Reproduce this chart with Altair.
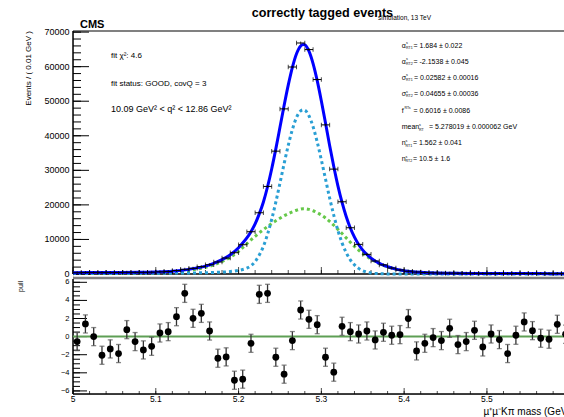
import altair as alt
import pandas as pd

# ---------------- data ----------------
bin_center = [5.005, 5.015, 5.025, 5.035, 5.045, 5.055, 5.065, 5.075, 5.085, 5.095,
              5.105, 5.115, 5.125, 5.135, 5.145, 5.155, 5.165, 5.175, 5.185, 5.195,
              5.205, 5.215, 5.225, 5.235, 5.245, 5.255, 5.265, 5.275, 5.285, 5.295,
              5.305, 5.315, 5.325, 5.335, 5.345, 5.355, 5.365, 5.375, 5.385, 5.395,
              5.405, 5.415, 5.425, 5.435, 5.445, 5.455, 5.465, 5.475, 5.485, 5.495,
              5.505, 5.515, 5.525, 5.535, 5.545, 5.555, 5.565, 5.575, 5.585, 5.595]
events = [370, 420, 415, 405, 420, 430, 480, 470, 480, 520,
          640, 720, 1010, 1350, 1630, 2130, 2690, 3470, 4620, 6160,
          8470, 12230, 17720, 25340, 35550, 47780, 59900, 66850, 64940, 56270,
          43150, 30350, 20900, 13380, 8580, 5690, 3760, 2640, 1720, 1150,
          800, 560, 420, 340, 270, 240, 210, 200, 185, 165,
          160, 150, 130, 135, 140, 125, 115, 112, 120, 105]
pull = [-0.55, 1.4, 0.0, -2.06, -1.36, -1.87, 0.77, -0.55, -1.47, -1.07,
        0.4, 0.55, 2.2, 4.78, 2.02, 2.57, 0.62, -2.39, -2.24, -4.82,
        -4.7, -0.74, 4.67, 4.78, -2.28, -4.15, -0.44, 2.94, 1.91, 1.32,
        -2.28, -3.93, 1.14, 0.55, 0.29, 0.62, -0.37, 0.48, 0.15, 0.22,
        1.99, -1.58, -0.74, -0.11, -0.44, 0.92, -0.88, -0.55, 0.7, -1.14,
        0.29, -0.33, -1.87, 0.15, 1.62, 0.66, -0.18, -0.29, 1.36, 0.26]
pull_err = [1.0] * 60

curve_x = [5.00, 5.02, 5.04, 5.06, 5.08, 5.10, 5.12, 5.14,
           5.15, 5.16, 5.17, 5.18, 5.19, 5.20,
           5.205, 5.21, 5.215, 5.22, 5.225, 5.23, 5.235, 5.24, 5.245, 5.25,
           5.255, 5.26, 5.265, 5.27, 5.275, 5.278,
           5.28, 5.285, 5.29, 5.295, 5.30, 5.305, 5.31, 5.315, 5.32, 5.325,
           5.33, 5.335, 5.34, 5.345, 5.35, 5.355, 5.36,
           5.37, 5.38, 5.39, 5.40, 5.42, 5.44, 5.46, 5.48, 5.50, 5.53, 5.56, 5.60]
curve_total = [380, 410, 435, 470, 520, 600, 810, 1340,
               1770, 2290, 3080, 4140, 5570, 7600,
               8950, 10450, 12250, 14500, 17400, 20850, 25250, 30400, 36200, 42450,
               48750, 54650, 59800, 63750, 66000, 66400,
               66300, 64500, 60900, 55950, 50050, 43700, 37200, 31100, 25500, 20700,
               16650, 13300, 10650, 8530, 6920, 5650, 4600,
               3090, 2120, 1405, 950, 480, 270, 200, 170, 150, 130, 115, 100]
curve_narrow = [150, 160, 170, 185, 200, 220, 250, 290,
                320, 370, 440, 540, 720, 1050,
                1300, 1700, 2400, 3600, 5500, 8000, 11500, 15800, 20800, 26300,
                31900, 37200, 41800, 45300, 47200, 47500,
                47400, 45800, 42600, 38200, 33000, 27500, 22000, 17000, 12600, 9000,
                6200, 4100, 2650, 1630, 970, 550, 300,
                90, 20, 5, 0, 0, 0, 0, 0, 0, 0, 0, 0]
curve_wide = [230, 250, 265, 285, 320, 380, 560, 1050,
              1450, 1920, 2640, 3600, 4850, 6550,
              7650, 8750, 9850, 10900, 11900, 12850, 13750, 14600, 15400, 16150,
              16850, 17450, 18000, 18450, 18800, 18900,
              18900, 18700, 18300, 17750, 17050, 16200, 15200, 14100, 12900, 11700,
              10450, 9200, 8000, 6900, 5950, 5100, 4300,
              3000, 2100, 1400, 950, 480, 270, 200, 170, 150, 130, 115, 100]

y_major = [0, 10000, 20000, 30000, 40000, 50000, 60000, 70000]
y_labels = ["0", "10000", "20000", "30000", "40000", "50000", "60000", "70000"]
y_minor = list(range(0, 70001, 2000))
x_major = [5.0, 5.1, 5.2, 5.3, 5.4, 5.5]
x_labels = ["5", "5.1", "5.2", "5.3", "5.4", "5.5"]
x_minor = [round(5.0 + 0.02 * i, 2) for i in range(30)]
pull_major = [-6, -4, -2, 0, 2, 4, 6]
pull_labels = ["\u22126", "\u22124", "\u22122", "0", "2", "4", "6"]
pull_minor = [round(-6 + 0.5 * i, 1) for i in range(25)]

params = [
    ("α", "s", "RT1", "= 1.684 ± 0.022"),
    ("α", "s", "RT2", "= -2.1538 ± 0.045"),
    ("σ", "s", "RT1", "= 0.02582 ± 0.00016"),
    ("σ", "s", "RT2", "= 0.04655 ± 0.00036"),
    ("f", "RTs", "", "= 0.6016 ± 0.0086"),
    ("mean", "s", "RT", "= 5.278019 ± 0.000062 GeV"),
    ("n", "s", "RT1", "= 1.562 ± 0.041"),
    ("n", "s", "RT2", "= 10.5 ± 1.6"),
]

# ---------------- layout constants ----------------
LEFT, TOP, W, H = 73, 31, 491, 363
FONT = "Liberation Sans"

df = pd.DataFrame({"mass": bin_center, "events": events, "pull": pull, "err": pull_err})
dfc = pd.DataFrame({"mass": curve_x, "total": curve_total,
                    "narrow": curve_narrow, "wide": curve_wide})
dummy = pd.DataFrame({"a": [0]})

xs = alt.Scale(domain=[5.0, 5.5931], nice=False, zero=False)
ys_ev = alt.Scale(domain=[0, 70320], range=[243, 0], nice=False, zero=False)
ys_pl = alt.Scale(domain=[-6.34, 6.365], range=[363, 248], nice=False, zero=False)


def X(f):
    return alt.X(f, type="quantitative", scale=xs, axis=None)


def YE(f):
    return alt.Y(f, type="quantitative", scale=ys_ev, axis=None)


def YP(f):
    return alt.Y(f, type="quantitative", scale=ys_pl, axis=None)


def txt(s, x, y, size, weight="normal", align="left", angle=0, baseline="alphabetic"):
    return alt.Chart(dummy).mark_text(
        text=s, fontSize=size, fontWeight=weight, align=align, angle=angle,
        baseline=baseline, color="black", font=FONT
    ).encode(x=alt.value(x - LEFT), y=alt.value(y - TOP))


def vline(x, y1, y2, color="black", width=1.5):
    return alt.Chart(dummy).mark_rule(color=color, strokeWidth=width).encode(
        x=alt.value(x), y=alt.value(y1), y2=alt.value(y2))


def hline(y, x1, x2, color="black", width=1.5):
    return alt.Chart(dummy).mark_rule(color=color, strokeWidth=width).encode(
        x=alt.value(x1), x2=alt.value(x2), y=alt.value(y))


# ---------------- top panel ----------------
narrow_line = alt.Chart(dfc).mark_line(
    color="#2a9fd4", strokeWidth=3, strokeDash=[3, 3], interpolate="monotone", clip=True
).encode(x=X("mass"), y=YE("narrow"))
wide_line = alt.Chart(dfc).mark_line(
    color="#66c84a", strokeWidth=3, strokeDash=[3, 3], interpolate="monotone", clip=True
).encode(x=X("mass"), y=YE("wide"))
total_line = alt.Chart(dfc).mark_line(
    color="#0000ff", strokeWidth=3, interpolate="monotone", clip=True
).encode(x=X("mass"), y=YE("total"))

pts = alt.Chart(df).transform_calculate(lo="datum.mass - 0.005", hi="datum.mass + 0.005")
xbar = pts.mark_rule(color="black", strokeWidth=1, clip=True).encode(
    x=X("lo:Q"), x2="hi:Q", y=YE("events"))
cap_l = pts.mark_tick(orient="vertical", size=4.5, thickness=1, color="black", clip=True).encode(
    x=X("lo:Q"), y=YE("events"))
cap_r = pts.mark_tick(orient="vertical", size=4.5, thickness=1, color="black", clip=True).encode(
    x=X("hi:Q"), y=YE("events"))
cap_c = pts.mark_tick(orient="vertical", size=3, thickness=1, color="black", clip=True).encode(
    x=X("mass"), y=YE("events"))

base_line = alt.Chart(dummy).mark_rule(color="black", strokeWidth=1.5).encode(
    x=alt.value(0), x2=alt.value(W), y=alt.YDatum(0, type="quantitative", scale=ys_ev, axis=None))

yt_major = alt.Chart(pd.DataFrame({"v": y_major})).mark_rule(color="black", strokeWidth=1).encode(
    y=YE("v"), x=alt.value(0), x2=alt.value(16))
yt_minor = alt.Chart(pd.DataFrame({"v": y_minor})).mark_rule(color="black", strokeWidth=1).encode(
    y=YE("v"), x=alt.value(0), x2=alt.value(8))
yt_labels = alt.Chart(pd.DataFrame({"v": y_major, "label": y_labels})).mark_text(
    align="right", baseline="middle", fontSize=9, color="black", font=FONT).encode(
    y=YE("v"), x=alt.value(-3.5), text="label:N")
xt_major_top = alt.Chart(pd.DataFrame({"v": x_major})).mark_tick(
    orient="vertical", size=7, thickness=1, color="black", yOffset=-3.5).encode(
    x=X("v"), y=alt.YDatum(0, type="quantitative", scale=ys_ev, axis=None))
xt_minor_top = alt.Chart(pd.DataFrame({"v": x_minor})).mark_tick(
    orient="vertical", size=4, thickness=1, color="black", yOffset=-2).encode(
    x=X("v"), y=alt.YDatum(0, type="quantitative", scale=ys_ev, axis=None))

texts = [
    txt("correctly tagged events", 322.4, 16.5, 12.6, "bold", "center"),
    txt("simulation, 13 TeV", 378, 19.5, 6.5),
    txt("CMS", 80, 28, 11, "bold"),
    txt("fit χ²: 4.6", 111, 57.8, 8),
    txt("fit status: GOOD, covQ = 3", 111, 86, 8),
    txt("10.09 GeV² < q² < 12.86 GeV²", 111, 111.5, 9),
    txt("Events / ( 0.01 GeV )", 32.5, 31, 8, align="right", angle=270, baseline="bottom"),
    txt("pull", 23.5, 281, 7, align="right", angle=270, baseline="bottom"),
    txt("µ⁺µ⁻Kπ mass (GeV)", 570.7, 415, 10, align="right"),
]
base_ys = [47.5, 63.5, 79.5, 95.8, 112.5, 129.2, 145.2, 160.8]
sub_x = [406, 406, 406, 406, 404.5, 419, 405.5, 405.5]
rest_x = [413.5, 413.5, 414, 414, 413.5, 429, 413, 413]
for (sym, sup, sub, rest), by, sx, rx in zip(params, base_ys, sub_x, rest_x):
    texts.append(txt(sym, 401.7, by, 7))
    texts.append(txt(sup, sx, by - 3.3, 3.6))
    if sub:
        texts.append(txt(sub, sx, by + 1.4, 3.6))
    texts.append(txt(rest, rx, by, 7))

top = alt.layer(
    hline(0, 0, W, "#808080", 2), vline(0, 0, 243),
    yt_minor, yt_major, yt_labels, xt_minor_top, xt_major_top, base_line,
    wide_line, narrow_line, total_line, xbar, cap_l, cap_r, cap_c, *texts
)

# ---------------- pull panel ----------------
zero_line = alt.Chart(dummy).mark_rule(color="#5e9f55", strokeWidth=2).encode(
    x=alt.value(0), x2=alt.value(W), y=alt.YDatum(0, type="quantitative", scale=ys_pl, axis=None))
pp = alt.Chart(df).transform_calculate(plo="datum.pull - datum.err", phi="datum.pull + datum.err")
ebar = pp.mark_rule(color="#333333", strokeWidth=1.3, clip=True).encode(
    x=X("mass"), y=YP("plo:Q"), y2="phi:Q")
ecap_lo = pp.mark_tick(orient="horizontal", size=5, thickness=1.3, color="#555555", clip=True).encode(
    x=X("mass"), y=YP("plo:Q"))
ecap_hi = pp.mark_tick(orient="horizontal", size=5, thickness=1.3, color="#555555", clip=True).encode(
    x=X("mass"), y=YP("phi:Q"))
dots = alt.Chart(df).mark_circle(size=46, color="black", opacity=1, clip=True).encode(
    x=X("mass"), y=YP("pull"))

pt_major = alt.Chart(pd.DataFrame({"v": pull_major})).mark_rule(color="black", strokeWidth=1).encode(
    y=YP("v"), x=alt.value(0), x2=alt.value(14))
pt_minor = alt.Chart(pd.DataFrame({"v": pull_minor})).mark_rule(color="black", strokeWidth=1).encode(
    y=YP("v"), x=alt.value(0), x2=alt.value(7))
pt_labels = alt.Chart(pd.DataFrame({"v": pull_major, "label": pull_labels})).mark_text(
    align="right", baseline="middle", fontSize=7.5, color="black", font=FONT).encode(
    y=YP("v"), x=alt.value(-3.5), text="label:N")
pxt_major = alt.Chart(pd.DataFrame({"v": x_major})).mark_tick(
    orient="vertical", size=6, thickness=1, color="black", yOffset=-3).encode(
    x=X("v"), y=alt.value(H))
pxt_minor = alt.Chart(pd.DataFrame({"v": x_minor})).mark_tick(
    orient="vertical", size=3, thickness=1, color="black", yOffset=-1.5).encode(
    x=X("v"), y=alt.value(H))
px_labels = alt.Chart(pd.DataFrame({"v": x_major, "label": x_labels})).mark_text(
    align="center", baseline="middle", fontSize=8.5, color="black", font=FONT).encode(
    x=X("v"), y=alt.value(367.5), text="label:N")

bottom = alt.layer(hline(247, 0, W, "#808080", 2.5), vline(0, 248, H), hline(H, 0, W),
                   pt_minor, pt_major, pt_labels, pxt_minor, pxt_major, px_labels,
                   zero_line, ebar, ecap_lo, ecap_hi, dots)

chart = alt.layer(top, bottom).resolve_scale(y="independent").properties(
    width=W, height=H,
    padding={"left": LEFT, "top": TOP, "right": 0, "bottom": 417 - TOP - H},
    autosize=alt.AutoSizeParams(type="none"),
).configure_view(stroke=None).configure(font=FONT, background="white")

chart.save("out.html", embed_options={"renderer": "svg", "actions": False})
